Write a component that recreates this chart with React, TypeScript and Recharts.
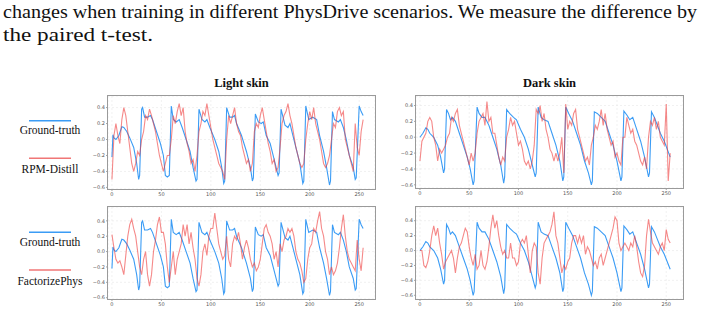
import { CartesianGrid, Line, LineChart, XAxis, YAxis } from "recharts";

// ground truth, keypoints (x = frame index)
const lightGtX = [0, 1, 2, 4, 7, 10, 12, 15, 18, 22, 25, 27, 28, 30, 31, 33, 36, 39, 41, 45, 49, 52, 54, 56, 58, 60, 62, 65, 68, 71, 75, 79, 82, 85, 86, 88, 91, 94, 96, 99, 104, 108, 111, 113, 114, 116, 119, 122, 124, 126, 131, 136, 140, 142, 143, 145, 148, 151, 153, 156, 160, 163, 166, 168, 169, 171, 175, 178, 180, 183, 187, 190, 193, 194, 196, 199, 203, 207, 210, 214, 217, 220, 221, 223, 225, 229, 231, 234, 237, 240, 244, 246, 247, 250, 252, 254];
const lightGtY = [-0.22, 0.06, 0.02, 0.0, 0.05, 0.16, 0.15, 0.1, 0.02, -0.1, -0.3, -0.5, -0.45, 0.38, 0.4, 0.28, 0.28, 0.3, 0.25, 0.1, -0.05, -0.2, -0.45, -0.47, -0.45, 0.42, 0.25, 0.22, 0.25, 0.15, 0.0, -0.15, -0.35, -0.52, -0.5, 0.38, 0.25, 0.22, 0.25, 0.15, 0.0, -0.15, -0.35, -0.55, -0.52, 0.4, 0.28, 0.28, 0.3, 0.2, 0.05, -0.15, -0.35, -0.52, -0.48, 0.32, 0.22, 0.2, 0.22, 0.05, -0.05, -0.2, -0.35, -0.45, -0.42, 0.38, 0.18, 0.15, 0.2, 0.05, -0.15, -0.3, -0.55, -0.52, 0.42, 0.25, 0.28, 0.25, 0.05, -0.15, -0.35, -0.57, -0.52, 0.35, 0.25, 0.22, 0.25, 0.15, 0.0, -0.2, -0.35, -0.5, -0.48, 0.42, 0.35, 0.3];

const darkGtX = [0, 3, 6, 8, 10, 14, 18, 21, 24, 25, 27, 29, 31, 33, 36, 40, 44, 48, 51, 54, 55, 58, 60, 63, 66, 70, 74, 78, 82, 85, 86, 88, 91, 95, 98, 102, 106, 110, 114, 117, 118, 120, 123, 126, 130, 134, 138, 142, 145, 146, 148, 151, 155, 159, 163, 167, 171, 174, 175, 177, 180, 184, 188, 192, 196, 200, 204, 205, 207, 210, 213, 216, 220, 224, 228, 232, 233, 235, 238, 241, 244, 248, 251, 254];
const darkGtY = [0.0, 0.05, 0.12, 0.1, 0.05, 0.0, -0.1, -0.25, -0.45, -0.4, 0.35, 0.3, 0.22, 0.25, 0.2, 0.05, -0.1, -0.25, -0.4, -0.6, -0.55, 0.38, 0.3, 0.25, 0.25, 0.15, 0.0, -0.15, -0.35, -0.58, -0.5, 0.35, 0.3, 0.25, 0.22, 0.1, 0.0, -0.15, -0.35, -0.5, -0.45, 0.38, 0.25, 0.22, 0.2, 0.05, -0.1, -0.3, -0.55, -0.5, 0.38, 0.3, 0.2, 0.05, -0.1, -0.3, -0.45, -0.6, -0.55, 0.32, 0.3, 0.25, 0.2, 0.05, -0.1, -0.3, -0.55, -0.5, 0.33, 0.28, 0.22, 0.25, 0.1, -0.05, -0.25, -0.5, -0.45, 0.32, 0.25, 0.15, 0.05, -0.05, -0.15, -0.25];

// predictions, sampled every 2 frames from 0 to 254
const rpmLight = [-0.5, 0.05, 0.2, 0.05, -0.05, 0.25, 0.4, 0.3, 0.1, -0.1, -0.3, -0.4, -0.3, -0.15, -0.2, 0.0, 0.1, 0.3, 0.25, 0.38, 0.3, 0.2, 0.1, -0.05, -0.2, -0.3, -0.4, -0.3, -0.2, -0.2, 0.0, 0.3, 0.2, 0.35, 0.45, 0.3, 0.4, 0.1, -0.05, -0.15, -0.3, -0.25, -0.4, -0.2, 0.1, 0.2, 0.35, 0.3, 0.45, 0.3, 0.15, 0.0, -0.1, -0.2, -0.3, -0.35, -0.4, -0.5, 0.0, 0.3, 0.2, 0.3, 0.4, 0.2, 0.1, 0.05, -0.1, -0.2, -0.3, -0.25, -0.4, -0.3, 0.1, 0.2, 0.15, 0.3, 0.4, 0.25, 0.1, -0.05, -0.15, -0.3, -0.25, -0.4, -0.35, -0.1, 0.2, 0.3, 0.35, 0.45, 0.3, 0.2, 0.05, -0.1, -0.2, -0.3, -0.35, -0.3, 0.0, 0.2, 0.35, 0.25, 0.4, 0.2, 0.1, 0.0, -0.15, -0.3, -0.35, -0.3, -0.2, 0.0, 0.2, 0.15, 0.35, 0.4, 0.3, 0.35, 0.0, -0.1, -0.2, -0.3, -0.4, 0.2, -0.1, -0.2, 0.1, 0.25];
const rpmDark = [-0.3, -0.05, 0.0, 0.05, 0.2, 0.25, 0.2, 0.0, -0.1, -0.3, -0.15, -0.2, -0.15, -0.1, 0.0, 0.05, 0.25, 0.2, 0.3, 0.35, 0.15, 0.05, -0.05, -0.15, -0.25, -0.35, -0.2, -0.3, -0.2, 0.05, 0.2, 0.25, 0.3, 0.15, 0.45, 0.2, 0.25, 0.05, 0.05, -0.1, -0.25, -0.35, -0.25, -0.3, 0.0, 0.1, 0.25, 0.15, 0.2, 0.05, -0.1, -0.05, -0.15, -0.3, -0.35, -0.3, -0.4, -0.3, -0.1, 0.35, 0.3, 0.4, 0.2, 0.3, 0.1, 0.0, -0.15, -0.2, -0.3, -0.2, -0.3, -0.2, 0.0, -0.45, 0.42, 0.1, 0.2, 0.15, 0.3, 0.35, 0.1, 0.0, -0.1, -0.2, -0.3, -0.25, -0.35, -0.1, 0.0, 0.15, 0.1, 0.2, 0.35, 0.15, 0.3, 0.1, 0.0, -0.1, -0.05, -0.25, -0.2, -0.3, -0.35, 0.0, 0.0, 0.25, 0.15, 0.05, 0.1, -0.05, -0.1, -0.2, -0.3, -0.35, -0.25, -0.4, 0.0, 0.2, 0.15, 0.25, 0.1, 0.2, 0.0, -0.05, -0.1, 0.42, -0.55, -0.2];
const factLight = [0.22, 0.05, -0.1, -0.15, -0.12, -0.2, -0.3, -0.05, 0.2, 0.35, 0.42, 0.3, 0.2, 0.0, -0.2, -0.3, -0.1, 0.0, -0.3, -0.45, -0.3, 0.0, 0.15, 0.35, 0.45, 0.25, 0.25, 0.1, -0.2, -0.4, -0.2, 0.0, -0.3, -0.1, 0.0, 0.1, 0.35, 0.2, 0.35, 0.1, 0.25, 0.05, -0.1, -0.35, -0.45, -0.3, 0.0, 0.1, -0.05, 0.2, 0.3, 0.3, 0.5, 0.3, 0.1, 0.0, -0.1, -0.05, 0.2, -0.1, -0.2, 0.1, 0.2, 0.15, 0.25, 0.1, -0.1, 0.05, 0.15, 0.05, -0.1, -0.2, -0.15, -0.25, -0.2, -0.1, 0.1, 0.3, 0.35, 0.25, 0.2, 0.1, -0.1, 0.0, -0.2, 0.1, 0.0, 0.15, 0.2, 0.3, 0.25, 0.3, 0.2, 0.0, -0.1, -0.15, -0.25, -0.4, -0.35, -0.1, 0.05, 0.1, 0.3, 0.25, 0.4, 0.52, 0.3, 0.2, 0.0, -0.1, -0.3, -0.2, -0.3, -0.25, -0.15, 0.05, 0.3, 0.48, 0.2, 0.0, -0.1, -0.15, -0.2, -0.25, 0.15, -0.1, -0.25, 0.05];
const factDark = [0.0, 0.0, -0.2, -0.23, -0.15, 0.0, 0.2, 0.33, 0.2, 0.3, 0.1, -0.05, -0.25, -0.15, -0.1, -0.05, 0.0, -0.1, -0.3, -0.1, 0.05, 0.1, 0.2, 0.3, 0.25, 0.05, -0.1, -0.2, -0.05, -0.25, -0.2, 0.0, -0.2, -0.25, -0.15, 0.05, 0.3, 0.48, 0.3, 0.4, 0.2, 0.05, -0.05, 0.0, -0.1, -0.1, 0.1, -0.1, -0.1, -0.2, -0.15, 0.1, 0.15, 0.1, 0.2, -0.05, -0.3, 0.0, 0.1, 0.05, -0.3, -0.45, -0.1, 0.1, 0.15, 0.2, 0.25, 0.35, 0.52, 0.2, 0.1, -0.1, -0.3, -0.2, -0.25, -0.15, -0.1, 0.1, 0.2, 0.2, 0.1, 0.2, 0.1, 0.2, -0.05, 0.05, 0.0, -0.1, -0.2, -0.15, -0.25, -0.1, -0.05, -0.2, -0.1, 0.0, 0.1, 0.2, 0.3, 0.45, 0.4, 0.1, 0.0, 0.05, 0.1, 0.05, 0.0, 0.1, 0.05, 0.2, 0.05, -0.15, -0.3, -0.35, -0.2, 0.2, 0.42, 0.25, 0.1, 0.05, 0.0, -0.05, 0.05, 0.1, 0.0, 0.28, 0.15, 0.1];

const xTicks = [0, 50, 100, 150, 200, 250];
const yTicks = [-0.6, -0.4, -0.2, 0, 0.2, 0.4];

const BLUE = "#3b9cf5";
const RED = "#ee3b3b";

const pts = (xs: number[], ys: number[]) => xs.map((x, i) => ({ x, y: ys[i] }));
const every2 = (ys: number[]) => ys.map((y, i) => ({ x: i * 2, y }));
const fmtY = (v: number) => (v < 0 ? "\u2212" : "") + Math.abs(v).toFixed(1);

function Panel({ left, top, width, height, xDomain, yDomain, gt, pred }: any) {
  const yw = 22;
  const xh = 12;
  const tick = { fontSize: 5, fill: "#555", fontFamily: "DejaVu Sans" };
  return (
    <div style={{ position: "absolute", left: left - yw, top: top - 1 }}>
      <LineChart width={yw + width + 1} height={height + xh + 1} margin={{ top: 1, right: 1, bottom: 0, left: 0 }}>
        <CartesianGrid stroke="#e8e8e8" strokeDasharray="2 2" strokeWidth={0.6} />
        <XAxis type="number" dataKey="x" domain={xDomain} ticks={xTicks} allowDataOverflow height={xh}
          tick={tick} tickSize={2} tickMargin={1} axisLine={false} tickLine={{ stroke: "#666", strokeWidth: 0.6 }} />
        <YAxis type="number" domain={yDomain} ticks={yTicks} allowDataOverflow width={yw} tickFormatter={fmtY}
          tick={tick} tickSize={2} tickMargin={1} axisLine={false} tickLine={{ stroke: "#666", strokeWidth: 0.6 }} />
        <Line data={gt} dataKey="y" stroke={BLUE} strokeWidth={1.1} dot={false} isAnimationActive={false} />
        <Line data={pred} dataKey="y" stroke={RED} strokeOpacity={0.6} strokeWidth={1.1} dot={false} isAnimationActive={false} />
      </LineChart>
      <div style={{ position: "absolute", left: yw - 1, top: 0, width: width + 2, height: height + 2, border: "1.5px solid #9a9a9a", boxSizing: "border-box", pointerEvents: "none" }} />
    </div>
  );
}

export default function App() {
  const lightGt = pts(lightGtX, lightGtY);
  const darkGt = pts(darkGtX, darkGtY);
  const serif = "Liberation Serif";
  return (
    <div style={{ position: "absolute", left: 0, top: 0, width: 703, height: 313, background: "#fff", overflow: "hidden" }}>
      <svg width={703} height={313} style={{ position: "absolute", left: 0, top: 0 }}>
        <text x={3} y={18} fontFamily={serif} fontSize={19} fill="#111" textLength={694} lengthAdjust="spacingAndGlyphs">
          changes when training in different PhysDrive scenarios. We measure the difference by
        </text>
        <text x={3} y={41} fontFamily={serif} fontSize={19} fill="#111" textLength={150} lengthAdjust="spacingAndGlyphs">the paired t-test.</text>
        <text x={241.5} y={87} textAnchor="middle" fontFamily={serif} fontWeight="bold" fontSize={12.5} fill="#111">Light skin</text>
        <text x={549.5} y={87} textAnchor="middle" fontFamily={serif} fontWeight="bold" fontSize={12.5} fill="#111">Dark skin</text>
        <line x1={29} x2={71} y1={120.7} y2={120.7} stroke={BLUE} strokeWidth={1.5} />
        <text x={50} y={134} textAnchor="middle" fontFamily={serif} fontSize={11.5} fill="#111">Ground-truth</text>
        <line x1={29} x2={71} y1={158.3} y2={158.3} stroke="#f07676" strokeWidth={1.5} />
        <text x={50} y={172.5} textAnchor="middle" fontFamily={serif} fontSize={11.5} fill="#111">RPM-Distill</text>
        <line x1={29} x2={71} y1={232.3} y2={232.3} stroke={BLUE} strokeWidth={1.5} />
        <text x={50} y={246} textAnchor="middle" fontFamily={serif} fontSize={11.5} fill="#111">Ground-truth</text>
        <line x1={29} x2={71} y1={270} y2={270} stroke="#f07676" strokeWidth={1.5} />
        <text x={50} y={284.5} textAnchor="middle" fontFamily={serif} fontSize={11.5} fill="#111">FactorizePhys</text>
      </svg>
      <Panel left={108} top={96} width={267} height={93} xDomain={[-4, 266]} yDomain={[-0.62, 0.545]} gt={lightGt} pred={every2(rpmLight)} />
      <Panel left={416} top={96} width={267} height={92} xDomain={[-4, 267]} yDomain={[-0.64, 0.52]} gt={darkGt} pred={every2(rpmDark)} />
      <Panel left={108} top={207} width={267} height={92} xDomain={[-4, 266]} yDomain={[-0.617, 0.58]} gt={lightGt} pred={every2(factLight)} />
      <Panel left={416} top={207} width={267} height={92} xDomain={[-4, 267]} yDomain={[-0.65, 0.584]} gt={darkGt} pred={every2(factDark)} />
    </div>
  );
}
